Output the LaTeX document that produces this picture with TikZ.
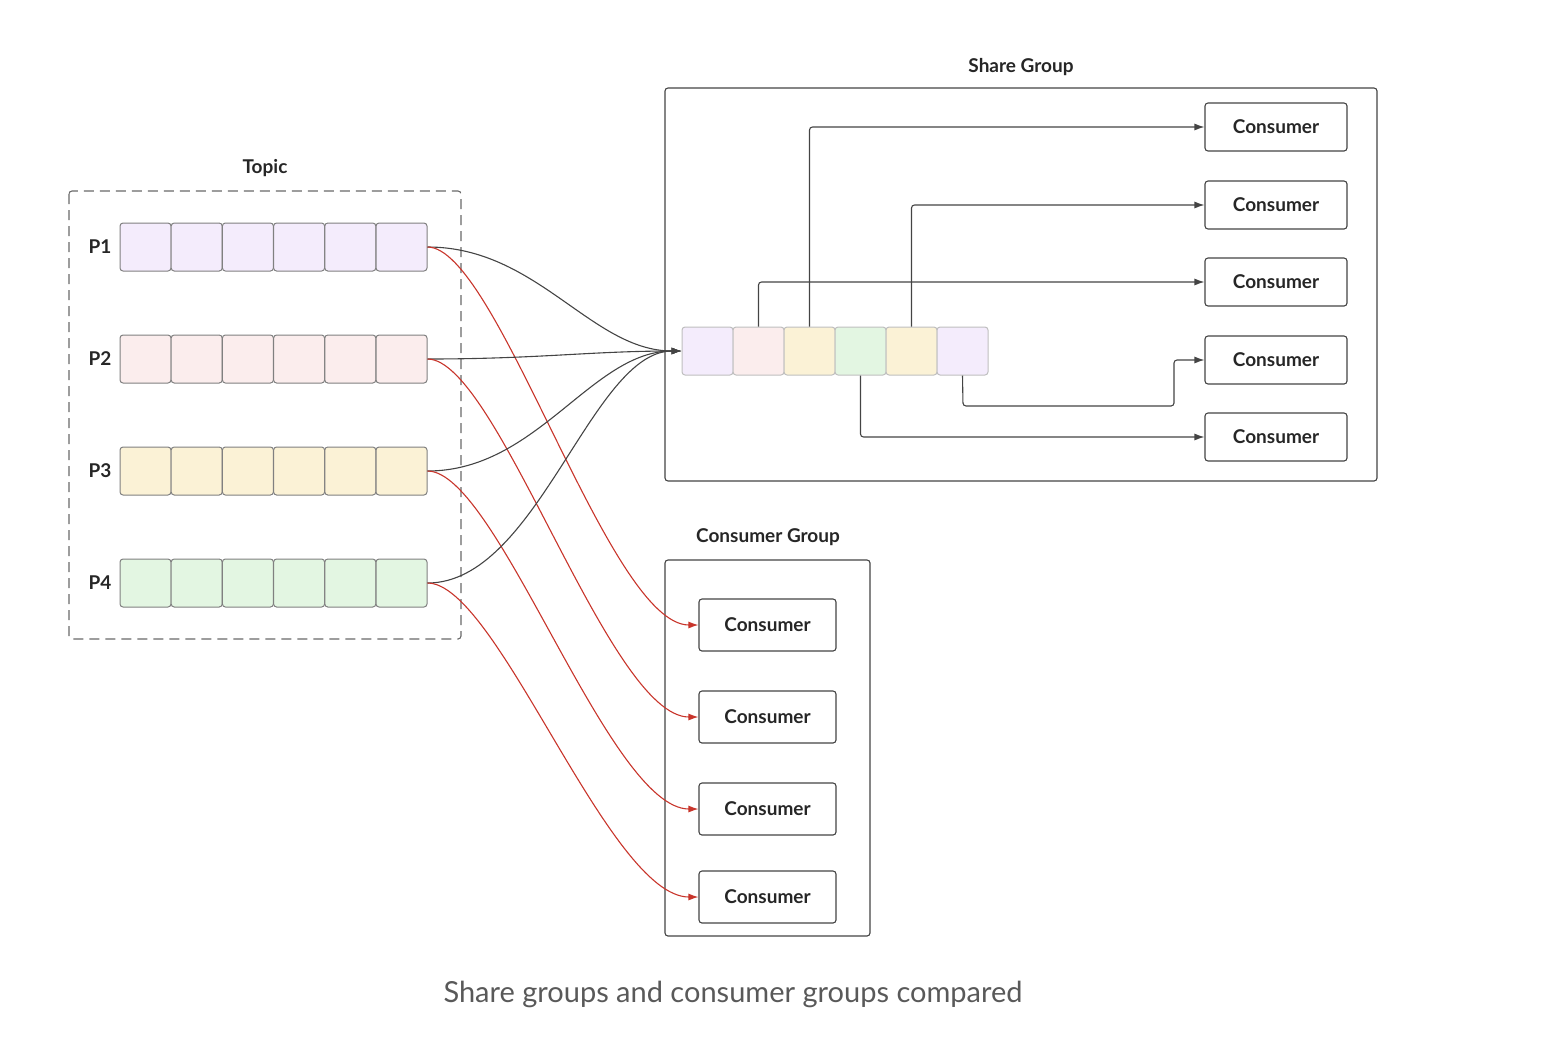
\documentclass[tikz,border=0pt]{standalone}
\usepackage{fontspec}
\setmainfont{Lato}
\usetikzlibrary{arrows.meta}
\definecolor{cA}{HTML}{F4ECFC}
\definecolor{cB}{HTML}{FBEDED}
\definecolor{cC}{HTML}{FBF2D6}
\definecolor{cD}{HTML}{E3F6E2}
\definecolor{ln}{HTML}{444444}
\definecolor{rd}{HTML}{C8352B}
\begin{document}
\begin{tikzpicture}[x=1pt,y=-1pt,
 cell/.style={draw=gray,line width=1pt,rounded corners=3pt,minimum width=51pt,minimum height=48pt,inner sep=0pt},
 cons/.style={draw=ln,line width=1.1pt,rounded corners=3pt,minimum width=142pt,minimum height=48pt,font=\bfseries\fontsize{19}{22}\selectfont,text=black!85},
 title/.style={font=\bfseries\fontsize{19}{22}\selectfont,text=black!85},
 blk/.style={draw=ln,line width=1.1pt,-{Latex[length=10pt,width=7pt]}},
 red/.style={draw=rd,line width=1.1pt,-{Latex[length=10pt,width=7pt]}}]
\useasboundingbox (0,0) rectangle (1546,1042);
% Topic
\draw[ln!80,line width=1.1pt,dash pattern=on 10pt off 6pt,rounded corners=3pt] (69,191) rectangle (461,639);
\node[title] at (265,168) {Topic};
\foreach \r/\y/\c in {1/247/cA,2/359/cB,3/471/cC,4/583/cD}{
  \node[title] at (100,\y) {P\r};
  \foreach \i in {0,...,5}{
    \node[cell,fill=\c] (p\r c\i) at ({145.5+51.2*\i},\y) {};
  }
}
% Share group
\draw[ln,line width=1.1pt,rounded corners=3pt] (665,88) rectangle (1377,481);
\node[title] at (1021,67) {Share Group};
\foreach \i/\c in {0/cA,1/cB,2/cC,3/cD,4/cC,5/cA}{
  \node[cell,fill=\c,draw=gray!50] (q\i) at ({707.5+51*\i},351) {};
}
\foreach \k/\y in {1/127,2/205,3/282,4/360,5/437}{
  \node[cons] (s\k) at (1276,\y) {Consumer};
}
\draw[blk,rounded corners=3pt] (q1.north) |- (s3.west);
\draw[blk,rounded corners=3pt] (q2.north) |- (s1.west);
\draw[blk,rounded corners=3pt] (q4.north) |- (s2.west);
\draw[blk,rounded corners=3pt] (q5.south) -- (963,406) -- (1174,406) -- (1174,360) -- (s4.west);
\draw[blk,rounded corners=3pt] (q3.south) |- (s5.west);
% Consumer group
\draw[ln,line width=1.1pt,rounded corners=3pt] (665,560) rectangle (870,936);
\node[title] at (768,537) {Consumer Group};
\foreach \k/\y in {1/625,2/717,3/809,4/897}{
  \node[cons,minimum width=137pt,minimum height=52pt] (g\k) at (767.5,\y) {Consumer};
}
% curves
\foreach \r in {1,2,3,4}{
  \draw[blk] (p\r c5.east) .. controls +(110,0) and +(-90,0) .. (q0.west);
  \draw[red] (p\r c5.east) .. controls +(70,0) and +(-90,0) .. (g\r.west);
}
\node[font=\fontsize{29}{34}\selectfont,text=black!65] at (733,994) {Share groups and consumer groups compared};
\end{tikzpicture}
\end{document}
